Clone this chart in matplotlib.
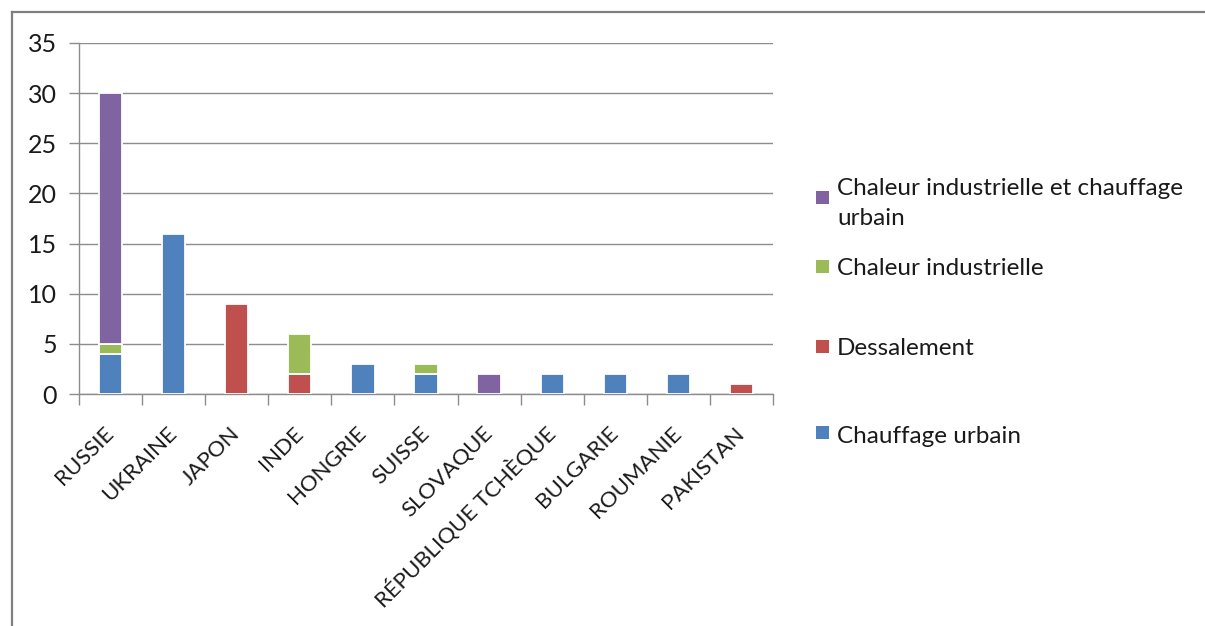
import numpy as np
import matplotlib.pyplot as plt
from matplotlib.patches import Rectangle
from matplotlib.lines import Line2D
from matplotlib.transforms import ScaledTranslation

plt.rcParams['font.family'] = ['Lato', 'DejaVu Sans']

pays = ['RUSSIE', 'UKRAINE', 'JAPON', 'INDE', 'HONGRIE', 'SUISSE', 'SLOVAQUE',
        'RÉPUBLIQUE TCHÈQUE', 'BULGARIE', 'ROUMANIE', 'PAKISTAN']

# stacked from bottom to top
chauffage_urbain = [4, 16, 0, 0, 3, 2, 0, 2, 2, 2, 0]
dessalement = [0, 0, 9, 2, 0, 0, 0, 0, 0, 0, 1]
chaleur_ind = [1, 0, 0, 4, 0, 1, 0, 0, 0, 0, 0]
chaleur_ind_urbain = [25, 0, 0, 0, 0, 0, 2, 0, 0, 0, 0]

series = [
    ('Chauffage urbain', chauffage_urbain, '#4f81bd'),
    ('Dessalement', dessalement, '#c0504d'),
    ('Chaleur industrielle', chaleur_ind, '#9bbb59'),
    ('Chaleur industrielle et chauffage\nurbain', chaleur_ind_urbain, '#8064a2'),
]

W, H = 1205, 626
fig = plt.figure(figsize=(W / 100, H / 100), dpi=100)
ax = fig.add_axes([79 / W, 1 - 394 / H, 694 / W, 351 / H])

x = np.arange(len(pays))
bottom = np.zeros(len(pays))
for name, vals, col in series:
    vals = np.array(vals, dtype=float)
    mask = vals > 0
    ax.bar(x[mask], vals[mask], bottom=bottom[mask], width=0.37, color=col,
           edgecolor='white', linewidth=1.3, zorder=3)
    bottom += vals

ax.set_xlim(-0.5, len(pays) - 0.5)
ax.set_ylim(0, 35)
ax.set_yticks(range(0, 36, 5))
ax.yaxis.grid(True, color='#8c8c8c', linewidth=1.0)
ax.set_axisbelow(True)

for s in ['top', 'right']:
    ax.spines[s].set_visible(False)
for s in ['left', 'bottom']:
    ax.spines[s].set_color('#8c8c8c')
    ax.spines[s].set_linewidth(1.0)

# ticks on category boundaries, labels on category centres
ax.set_xticks(np.arange(-0.5, len(pays)))
ax.set_xticklabels([])
ax.set_xticks(x, minor=True)
ax.set_xticklabels(pays, minor=True, rotation=45, ha='right', va='center',
                   rotation_mode='anchor', fontsize=16, color='#1a1a1a')
shift = ScaledTranslation(-4 / 72, 0, fig.dpi_scale_trans)
for lab in ax.get_xticklabels(minor=True):
    lab.set_transform(lab.get_transform() + shift)
ax.tick_params(axis='x', which='major', length=8, color='#8c8c8c', width=1)
ax.tick_params(axis='x', which='minor', length=0, pad=26)
ax.tick_params(axis='y', length=7, color='#8c8c8c', width=1,
               labelsize=18, labelcolor='#1a1a1a', pad=9)

# legend drawn by hand: swatch centre and text baselines in pixels
leg_box = [432, 346, 266, 197]
leg_base = [[443], [355], [275], [195, 225]]
for (name, vals, col), yc, bases in zip(series, leg_box, leg_base):
    fig.patches.append(Rectangle((816 / W, 1 - (yc + 7) / H), 13 / W, 13 / H,
                                 transform=fig.transFigure, facecolor=col,
                                 edgecolor='none'))
    for line, yb in zip(name.split('\n'), bases):
        fig.text(837 / W, 1 - yb / H, line, fontsize=17.5, color='#1a1a1a',
                 va='baseline', ha='left')

# outer frame
fig.lines.append(Line2D([12 / W, 1], [1 - 12 / H] * 2, transform=fig.transFigure,
                        color='#7f7f7f', linewidth=1.6))
fig.lines.append(Line2D([12 / W] * 2, [1 - 12 / H, 0], transform=fig.transFigure,
                        color='#7f7f7f', linewidth=1.6))

fig.savefig('out.png', dpi=100)
